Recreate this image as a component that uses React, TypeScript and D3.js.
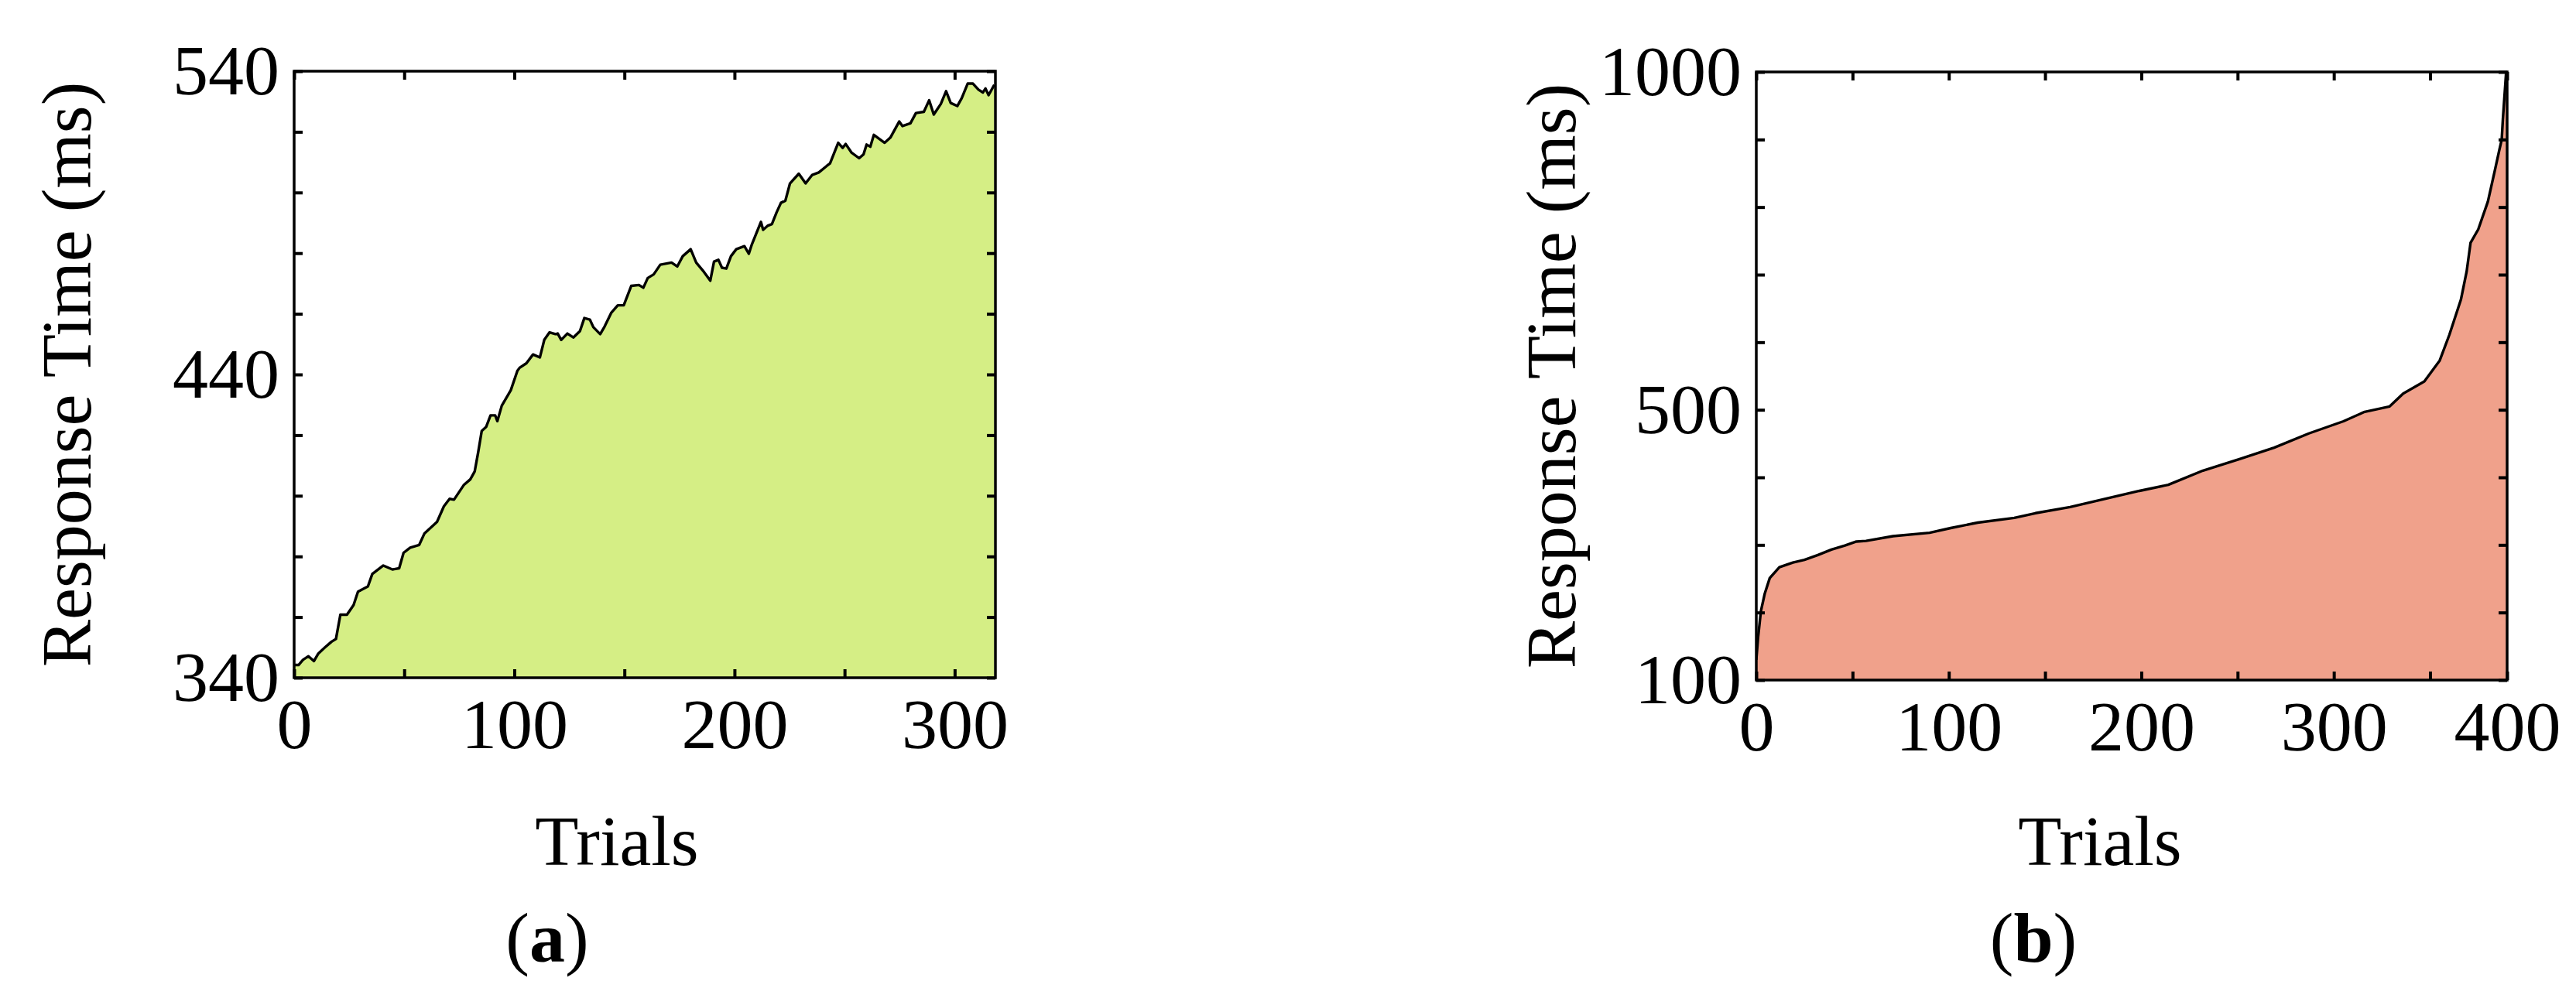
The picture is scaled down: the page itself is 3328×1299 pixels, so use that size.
import React, { useEffect, useRef } from 'react';
import * as d3 from 'd3';

// Panel (a): response time across trials
const trialsA = [0, 2, 4, 6.5, 9, 11, 14, 17, 19, 21, 24, 27, 29, 33.5, 35.5, 40.5, 44.6, 47.7, 49.7, 52.7, 56.8, 59.2, 64.9, 68, 70.6, 72.6, 77, 80, 82, 83.6, 85.2, 87.2, 89.2, 91.3, 92.3, 94.3, 98.4, 101.4, 102.4, 105.5, 108.5, 111.6, 113.6, 116, 118.7, 119.7, 121.3, 124.1, 126.8, 129.8, 131.8, 134.3, 135.9, 139, 141, 144, 147, 149.7, 153.1, 156.6, 158.6, 160.6, 163.3, 166.3, 171.4, 174, 176.5, 180.1, 182.6, 185.6, 189, 190.7, 192.7, 194.3, 196.3, 198.4, 200.8, 204.5, 206.5, 207.9, 212, 213, 215, 217, 219.1, 221.1, 223.1, 225.2, 229.2, 232.3, 235.3, 238.3, 241.8, 243.4, 247.1, 249.1, 250.5, 253.1, 256.6, 258.6, 260, 261.7, 263.3, 268.2, 270.8, 274.8, 276.3, 279.9, 282.4, 286, 288.4, 290.5, 293.7, 296.1, 298.2, 301.2, 303.2, 305.9, 308.3, 310.8, 312.8, 314, 315.4, 318];
const rtA = [344.2, 344.2, 345.9, 347.1, 345.5, 348, 350, 351.9, 352.8, 360.8, 360.8, 364, 368.4, 370.1, 374.2, 377, 375.7, 376.1, 381.2, 382.9, 383.8, 387.6, 391.4, 396.5, 399, 398.7, 403.5, 405.4, 408, 414.4, 421.4, 422.7, 426.5, 426.5, 424.6, 429.7, 434.8, 441.2, 442.2, 443.7, 446.6, 445.6, 451.4, 453.9, 453.3, 453.5, 451.4, 453.5, 452.2, 454.3, 458.6, 458.1, 455.6, 453.3, 455.8, 460.3, 462.8, 462.8, 469.2, 469.5, 468.6, 471.8, 473, 476.2, 476.9, 475.6, 479, 481.3, 476.9, 474.3, 470.9, 477.2, 477.8, 475.2, 474.9, 479, 481.3, 482.3, 479.8, 482.9, 490.3, 487.7, 489, 489.6, 493.4, 496.6, 497.3, 503, 506.2, 503, 505.8, 506.6, 508.7, 509.6, 516.4, 514.7, 516, 513.2, 511.3, 512.6, 515.8, 515.1, 519, 516.4, 518.1, 523.4, 521.9, 522.8, 526.2, 526.6, 530.4, 525.7, 529.2, 533.4, 529.5, 528.5, 531.1, 535.9, 535.9, 533.9, 533, 534.3, 532.1, 535.5];
const xDomainA = [0, 318.5];
const xTicksA = [0, 50, 100, 150, 200, 250, 300];
const xLabelsA = ['0', '', '100', '', '200', '', '300'];
const yTicksA = [340, 360, 380, 400, 420, 440, 460, 480, 500, 520, 540];
const yLabelsA = ['340', '', '', '', '', '440', '', '', '', '', '540'];

// Panel (b): sorted response times
const trialsB = [0, 1, 2.4, 4.4, 7, 12, 19, 25, 32, 39, 46, 52, 57, 71, 90, 101, 115, 134, 145, 163, 181, 199, 214, 232, 251, 269, 287, 305, 316, 329, 336, 347, 355, 360, 366, 369, 371, 375, 380, 383.6, 386, 387.2, 387.8, 389.5];
const rtB = [130, 165, 202, 228, 251, 267, 274, 278, 285, 293, 299, 305, 306, 313, 318, 325, 333, 340, 347, 356, 368, 380, 389, 410, 427, 444, 465, 483, 497, 505, 524, 542, 573, 611, 663, 705, 747, 767, 808, 854, 885, 900, 930, 1000];
const xDomainB = [0, 390];
const xTicksB = [0, 50, 100, 150, 200, 250, 300, 350, 390];
const xLabelsB = ['0', '', '100', '', '200', '', '300', '', '400'];
const yTicksB = [100, 200, 300, 400, 500, 600, 700, 800, 900, 1000];
const yLabelsB = ['100', '', '', '', '500', '', '', '', '', '1000'];

const FONT = '"Liberation Serif", "Times New Roman", serif';
const FS = 92;

const panels = [
    {
        trials: trialsA, rt: rtA, xDomain: xDomainA, xTicks: xTicksA, xLabels: xLabelsA,
        yTicks: yTicksA, yLabels: yLabelsA,
        box: { left: 380, right: 1286, top: 92, bottom: 876 },
        fill: '#d5ee85', titleX: 117, trialsX: 797, tag: 'a', tagX: 707
    },
    {
        trials: trialsB, rt: rtB, xDomain: xDomainB, xTicks: xTicksB, xLabels: xLabelsB,
        yTicks: yTicksB, yLabels: yLabelsB,
        box: { left: 2269, right: 3239, top: 93, bottom: 879 },
        fill: '#f0a18b', titleX: 2035, trialsX: 2713, tag: 'b', tagX: 2627
    }
];

const App = () => {
    const svgRef = useRef(null);

    useEffect(() => {
        if (!svgRef.current) return;
        const svg = d3.select(svgRef.current);
        svg.selectAll('*').remove();

        panels.forEach((p, idx) => {
            const { left, right, top, bottom } = p.box;
            const x = d3.scaleLinear().domain(p.xDomain).range([left, right]);
            const y = d3.scaleLinear().domain([p.yTicks[0], p.yTicks[p.yTicks.length - 1]]).range([bottom, top]);
            const pts = p.trials.map((t, i) => ({ t, v: p.rt[i] }));

            const clipId = `clip-${idx}`;
            svg.append('clipPath').attr('id', clipId)
                .append('rect')
                .attr('x', left).attr('y', top)
                .attr('width', right - left).attr('height', bottom - top);

            const g = svg.append('g');

            const area = d3.area<{ t: number, v: number }>()
                .x(d => x(d.t))
                .y0(bottom)
                .y1(d => y(d.v))
                .curve(d3.curveLinear);

            const line = d3.line<{ t: number, v: number }>()
                .x(d => x(d.t))
                .y(d => y(d.v))
                .curve(d3.curveLinear);

            g.append('path')
                .datum(pts)
                .attr('clip-path', `url(#${clipId})`)
                .attr('fill', p.fill)
                .attr('d', area);

            g.append('path')
                .datum(pts)
                .attr('clip-path', `url(#${clipId})`)
                .attr('fill', 'none')
                .attr('stroke', '#000')
                .attr('stroke-width', 3.4)
                .attr('stroke-linejoin', 'round')
                .attr('d', line);

            const labelOf = (ticks, labels) => (d) => labels[ticks.indexOf(d)] ?? '';

            // Axes with inward ticks on all four sides
            const axes = [
                g.append('g').attr('transform', `translate(0,${bottom})`)
                    .call(d3.axisBottom(x).tickValues(p.xTicks).tickSize(-11).tickSizeOuter(0)
                        .tickPadding(26).tickFormat(labelOf(p.xTicks, p.xLabels))),
                g.append('g').attr('transform', `translate(0,${top})`)
                    .call(d3.axisTop(x).tickValues(p.xTicks).tickSize(-11).tickSizeOuter(0).tickFormat(() => '')),
                g.append('g').attr('transform', `translate(${left},0)`)
                    .call(d3.axisLeft(y).tickValues(p.yTicks).tickSize(-11).tickSizeOuter(0)
                        .tickPadding(19).tickFormat(labelOf(p.yTicks, p.yLabels))),
                g.append('g').attr('transform', `translate(${right},0)`)
                    .call(d3.axisRight(y).tickValues(p.yTicks).tickSize(-11).tickSizeOuter(0).tickFormat(() => ''))
            ];
            axes.forEach(a => {
                a.select('.domain').remove();
                a.selectAll('line').attr('stroke', '#000').attr('stroke-width', 4);
                a.selectAll('text')
                    .attr('fill', '#000')
                    .style('font-family', FONT)
                    .style('font-size', `${FS}px`);
            });

            // Frame
            g.append('rect')
                .attr('x', left).attr('y', top)
                .attr('width', right - left).attr('height', bottom - top)
                .attr('fill', 'none')
                .attr('stroke', '#000')
                .attr('stroke-width', 3.5);

            // Y title
            g.append('text')
                .attr('transform', `translate(${p.titleX},${(top + bottom) / 2}) rotate(-90)`)
                .attr('text-anchor', 'middle')
                .style('font-family', FONT)
                .style('font-size', `${FS}px`)
                .text('Response Time (ms)');

            // X title
            g.append('text')
                .attr('x', p.trialsX).attr('y', 1118)
                .attr('text-anchor', 'middle')
                .style('font-family', FONT)
                .style('font-size', `${FS}px`)
                .text('Trials');

            // Panel tag
            const tag = g.append('text')
                .attr('x', p.tagX).attr('y', 1243)
                .attr('text-anchor', 'middle')
                .style('font-family', FONT)
                .style('font-size', `${FS}px`);
            tag.append('tspan').text('(');
            tag.append('tspan').attr('font-weight', 'bold').text(p.tag);
            tag.append('tspan').text(')');
        });
    }, []);

    return (
        <svg ref={svgRef} width={3328} height={1299}
            style={{ position: 'absolute', left: 0, top: 0, background: '#fff' }} />
    );
};

export default App;
